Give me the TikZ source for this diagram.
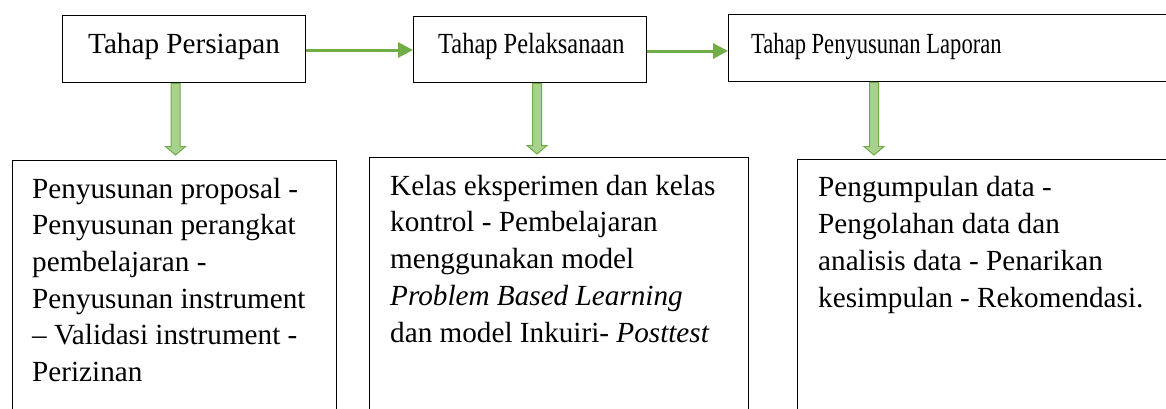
\documentclass[tikz,border=0pt]{standalone}
\usepackage{fontspec}
\setmainfont{Liberation Serif}
\usepackage{graphicx}
\usetikzlibrary{arrows.meta,calc}
\definecolor{lineGreen}{HTML}{70AD47}
\definecolor{fillGreen}{HTML}{A9D18E}
\newcommand\blockarr[2]{%
  \draw[barrow] ($(#1)+(-4.5,0)$) -- ($(#2)+(-4.5,-8.5)$) -- ($(#2)+(-10,-8.5)$) -- (#2)
    -- ($(#2)+(10,-8.5)$) -- ($(#2)+(4.5,-8.5)$) -- ($(#1)+(4.5,0)$) -- cycle;}
\begin{document}
\begin{tikzpicture}[x=1pt,y=-1pt,
  box/.style={draw, line width=1.3pt, rectangle, inner sep=0pt, anchor=north west},
  txt/.style={inner sep=0pt, anchor=base west, font=\fontsize{29.2}{36.7}\selectfont},
  para/.style={txt, align=left},
  harrow/.style={draw=lineGreen, line width=3pt, -{Triangle[length=15pt,width=15pt]}},
  barrow/.style={draw=lineGreen, fill=fillGreen, line width=1pt, line join=miter}]
\useasboundingbox (0,0) rectangle (1166,408);
\clip (0,0) rectangle (1166,408);
\fill[white] (0,0) rectangle (1166,408);
% top boxes
\node[box, minimum width=243pt, minimum height=67pt] (t1) at (62,15) {};
\node[box, minimum width=233pt, minimum height=66pt] (t2) at (413,16) {};
\node[box, minimum width=500pt, minimum height=67pt] (t3) at (728,14) {};
\node[txt] (l1) at (88,53) {Tahap Persiapan};
\node[txt] (l2) at (438,53) {\scalebox{0.837}[1]{Tahap Pelaksanaan}};
\node[txt] (l3) at (751,53) {\scalebox{0.773}[1]{Tahap Penyusunan Laporan}};
% bottom boxes
\node[box, minimum width=324pt, minimum height=300pt] (b1) at (12,160) {};
\node[box, minimum width=379pt, minimum height=300pt] (b2) at (369,157) {};
\node[box, minimum width=450pt, minimum height=300pt] (b3) at (797,159) {};
% multi-line nodes: base anchor = baseline of last line
\node[para] (p1) at (32,381.5) {Penyusunan proposal -\\Penyusunan perangkat\\pembelajaran -\\Penyusunan instrument\\– Validasi instrument -\\Perizinan};
\node[para] (p2) at (390,342) {Kelas eksperimen dan kelas\\kontrol - Pembelajaran\\menggunakan model\\\textit{Problem Based Learning}\\dan model Inkuiri- \textit{Posttest}};
\node[para] (p3) at (818,307) {Pengumpulan data -\\Pengolahan data dan\\analisis data - Penarikan\\kesimpulan - Rekomendasi.};
% horizontal arrows
\draw[harrow] (t1.east |- 0,50) -- (t2.west |- 0,50);
\draw[harrow] (t2.east |- 0,51) -- (t3.west |- 0,51);
% down block arrows
\coordinate (d1) at (175.5,155);
\coordinate (d2) at (537,154);
\coordinate (d3) at (874,155);
\coordinate (u1) at (t1.south -| d1);
\coordinate (u2) at (t2.south -| d2);
\coordinate (u3) at (t3.south -| d3);
\blockarr{u1}{d1}
\blockarr{u2}{d2}
\blockarr{u3}{d3}
\end{tikzpicture}
\end{document}
